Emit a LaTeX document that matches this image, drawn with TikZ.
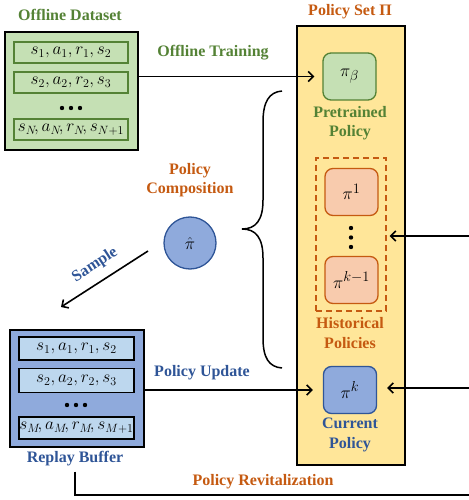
\documentclass[tikz,border=0pt]{standalone}
\usepackage{fontspec}
\setmainfont{Liberation Serif}
\usetikzlibrary{arrows.meta,calc}

\definecolor{grn}{HTML}{548235}
\definecolor{grnfill}{HTML}{C5E0B4}
\definecolor{org}{HTML}{C55A11}
\definecolor{orgfill}{HTML}{F8CBAD}
\definecolor{ylw}{HTML}{FFE699}
\definecolor{blu}{HTML}{2F5597}
\definecolor{blufill}{HTML}{8FAADC}
\definecolor{lblu}{HTML}{BDD7EE}

\tikzset{
  lbl/.style={font=\bfseries\fontsize{16}{19.5}\selectfont, align=center, inner sep=0pt},
  bigbox/.style={draw=black, line width=1.6pt, inner sep=0pt},
  row/.style={draw, line width=1.3pt, minimum width=114pt, minimum height=21pt,
              inner sep=0pt, font=\fontsize{17}{20}\selectfont},
  pinode/.style={draw, rounded corners=8pt, line width=1.3pt, minimum width=53pt,
                 minimum height=47pt, inner sep=0pt, font=\fontsize{19}{22}\selectfont},
  arr/.style={-{Straight Barb[length=5pt,width=10pt]}, line width=1.6pt},
  dotmark/.style={fill=black},
}

\begin{document}
\begin{tikzpicture}[x=1pt, y=-1pt]
\useasboundingbox (0,0) rectangle (468,500);

% ---------- offline dataset ----------
\node[lbl, text=grn] (dstitle) at (70,15) {Offline Dataset};
\node[bigbox, fill=grnfill, minimum width=133pt, minimum height=118pt] (ds) at (71.5,91) {};
\node[row, draw=grn] (ds1) at (71,52.5) {$s_1, a_1, r_1, s_2$};
\node[row, draw=grn] (ds2) at (71,82.5) {$s_2, a_2, r_2, s_3$};
\node[row, draw=grn] (dsN) at (71,129.5) {$s_N\!, a_N\!, r_N\!, s_{N+1}$};
\foreach \x in {62,71,80} \fill[dotmark] (\x,108) circle (2.2pt);

% ---------- policy set ----------
\node[lbl, text=org] (pstitle) at (350,12) {Policy Set Π};
\node[bigbox, fill=ylw, minimum width=108pt, minimum height=439pt] (ps) at (351,245.5) {};

\node[pinode, draw=grn, fill=grnfill] (pib) at (349.5,76.5) {$\pi_\beta$};
\node[lbl, text=grn] (pibl) at (350,123) {Pretrained\\Policy};

\node[draw=org, dash pattern=on 6pt off 4pt, line width=1.3pt, minimum width=70pt,
      minimum height=153pt, inner sep=0pt] (hist) at (351,234.5) {};
\node[pinode, draw=org, fill=orgfill] (pi1) at (351.5,192) {$\pi^1$};
\node[pinode, draw=org, fill=orgfill] (pik1) at (351.5,280) {$\pi^{k-1}$};
\foreach \y in {228,237.5,247} \fill[dotmark] (351,\y) circle (2.2pt);
\node[lbl, text=org] (histl) at (350,333) {Historical\\Policies};

\node[pinode, draw=blu, fill=blufill] (pik) at (350,390) {$\pi^k$};
\node[lbl, text=blu] (pikl) at (350,435) {Current\\Policy};

% ---------- replay buffer ----------
\node[bigbox, fill=blufill, minimum width=134pt, minimum height=117pt] (rb) at (77,388.5) {};
\node[row, draw=black, fill=lblu, minimum width=115pt, minimum height=23pt] (rb1) at (76.5,348.5) {$s_1, a_1, r_1, s_2$};
\node[row, draw=black, fill=lblu, minimum width=115pt, minimum height=24pt] (rb2) at (76.5,380.5) {$s_2, a_2, r_2, s_3$};
\node[row, draw=black, fill=lblu, minimum width=115pt, minimum height=22pt] (rbM) at (76.5,428) {$s_M\!, a_M\!, r_M\!, s_{M+1}$};
\foreach \x in {67,76,85} \fill[dotmark] (\x,405) circle (2.2pt);
\node[lbl, text=blu] (rbl) at (75,459) {Replay Buffer};

% ---------- composed policy ----------
\node[lbl, text=org] (compl) at (190,180) {Policy\\Composition};
\node[circle, draw=blu, fill=blufill, line width=1.3pt, minimum size=52pt, inner sep=0pt,
      font=\fontsize{19}{22}\selectfont] (pihat) at (190,243) {$\hat\pi$};

% curly brace over the policy set
\draw[line width=1.5pt] (282,91) .. controls (269,92) and (263,102) .. (263,122)
  -- (263,200) .. controls (263,220) and (256,229) .. (242,229)
  .. controls (256,229) and (263,238) .. (263,258)
  -- (263,338) .. controls (263,358) and (269,367) .. (282,368);

% ---------- connectors ----------
\node[lbl, text=grn] (otl) at (213,53) {Offline Training};
\draw[arr, shorten >=8pt] (ds.east |- pib.west) -- (pib.west);

\node[lbl, text=blu] (pul) at (202,373) {Policy Update};
\draw[arr, shorten >=10pt] (rb.east |- pik.west) -- (pik.west);

\coordinate (smpS) at (148,251);
\coordinate (smpE) at (61,307);
\draw[arr] (smpS) -- (smpE);
\node[lbl, text=blu, rotate=33] (smpl) at (95,265) {Sample};

\coordinate (revR1) at (470,236);
\coordinate (revR2) at (470,388);
\coordinate (revB) at (470,495);
\draw[arr, shorten >=3pt] (revR1) -- (hist.east |- revR1);
\draw[arr, shorten >=10pt] (revR2) -- (pik.east |- revR2);
\draw[line width=1.6pt] ([yshift=-5pt]rbl.south) |- (revB);
\node[lbl, text=org] (revl) at (263,482) {Policy Revitalization};
\end{tikzpicture}
\end{document}
